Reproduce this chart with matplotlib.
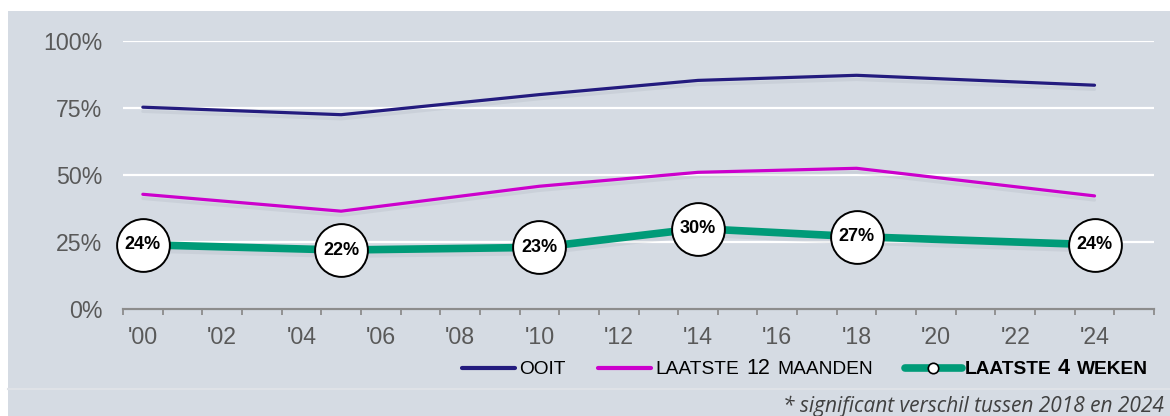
import numpy as np
import matplotlib
matplotlib.use("Agg")
import matplotlib.pyplot as plt
import matplotlib.patheffects as pe
from matplotlib.lines import Line2D
from matplotlib.patches import Rectangle
from matplotlib.offsetbox import (AnchoredOffsetbox, DrawingArea, HPacker,
                                  TextArea)

plt.rcParams['font.family'] = ['Liberation Sans', 'DejaVu Sans']

# --- data -------------------------------------------------------------
years = [2000, 2005, 2010, 2014, 2018, 2024]
ooit = [75.3, 72.5, 80.0, 85.3, 87.2, 83.5]
maanden12 = [42.8, 36.5, 45.8, 51.0, 52.5, 42.2]
weken4 = [24, 22, 23, 30, 27, 24]
weken4_labels = ['24%', '22%', '23%', '30%', '27%', '24%']

first_year, last_year = 2000, 2025
tick_labels = ["'00", "'02", "'04", "'06", "'08", "'10", "'12",
               "'14", "'16", "'18", "'20", "'22", "'24"]
y_ticks = [0, 25, 50, 75, 100]
y_labels = ['0%', '25%', '50%', '75%', '100%']

footnote = '* significant verschil tussen 2018 en 2024'

# --- colours ----------------------------------------------------------
bg = '#d5dbe3'
navy = '#231b7e'
magenta = '#cc00cc'
green = '#009b78'
txt_gray = '#595959'

W, H = 1170, 416
fig = plt.figure(figsize=(W / 100, H / 100), dpi=100)
fig.patch.set_facecolor('white')

# panel background
fig.add_artist(Rectangle((8 / W, 0), 1 - 8 / W, 1 - 11 / H,
                         transform=fig.transFigure, facecolor=bg,
                         edgecolor='none', zorder=-10))
fig.add_artist(Line2D([8 / W, 1], [1 - 389 / H] * 2, transform=fig.transFigure,
                      color='#dfe2e7', lw=1.5, zorder=-9))

ax = fig.add_axes([123 / W, 1 - 309 / H, (1154 - 123) / W, (309 - 41) / H])
ax.set_facecolor('none')

x = [y - first_year for y in years]
shadow = [pe.SimpleLineShadow(offset=(0, -3), shadow_color='#7d8794', alpha=0.12),
          pe.Normal()]

ax.plot(x, ooit, color=navy, lw=2.3, solid_capstyle='round', zorder=3,
        path_effects=shadow)
ax.plot(x, maanden12, color=magenta, lw=2.3, solid_capstyle='round', zorder=3,
        path_effects=shadow)
ax.plot(x, weken4, color=green, lw=5.5, solid_capstyle='butt', zorder=4,
        path_effects=shadow)
ax.plot(x, weken4, ls='none', marker='o', ms=38, mfc='white', mec='black',
        mew=1.4, zorder=5, clip_on=False)
for xi, yi, lab in zip(x, weken4, weken4_labels):
    ax.text(xi, yi, lab, ha='center', va='center', fontsize=13,
            fontweight='bold', color='black', zorder=6)

n_cat = last_year - first_year + 1
ax.set_xlim(-0.5, n_cat - 0.5)
ax.set_ylim(0, 100)

# category boundary ticks (major) and labels (minor)
ax.set_xticks(np.arange(-0.5, n_cat, 1.0))
ax.set_xticklabels([])
ax.set_xticks(np.arange(0, 2 * len(tick_labels), 2), minor=True)
ax.set_xticklabels(tick_labels, minor=True)
ax.tick_params(axis='x', which='major', length=4, width=1.3, color='#8c8c8c',
               direction='out')
ax.tick_params(axis='x', which='minor', length=0, pad=12, labelsize=16.7,
               labelcolor=txt_gray)

ax.set_yticks(y_ticks)
ax.set_yticklabels(y_labels)
ax.tick_params(axis='y', length=0, pad=15, labelsize=16.7, labelcolor=txt_gray)

ax.grid(axis='y', color='white', lw=1.6, zorder=1)
ax.set_axisbelow(True)
for s in ['top', 'right', 'left']:
    ax.spines[s].set_visible(False)
ax.spines['bottom'].set_color('#8c8c8c')
ax.spines['bottom'].set_linewidth(1.6)
ax.spines['bottom'].set_zorder(2)

# --- legend with small-caps style labels ------------------------------
def handle(color, lw, length, marker=False):
    da = DrawingArea(length, 10, 0, 0)
    da.add_artist(Line2D([0, length], [4.8, 4.8], color=color, lw=lw,
                         solid_capstyle='round'))
    if marker:
        da.add_artist(Line2D([length / 2], [4.8], marker='o', ms=7.5,
                             mfc='white', mec='black', mew=1.2))
    return da


def label(parts, bold=False):
    boxes = []
    for text, big in parts:
        boxes.append(TextArea(text, textprops=dict(
            size=15.5 if big else 13.8, color='black',
            fontweight='bold' if bold else 'normal')))
    return HPacker(children=boxes, align='baseline', pad=0, sep=5)


items = [
    HPacker(children=[handle(navy, 3, 38), label([('OOIT', False)])],
            align='baseline', pad=0, sep=3.5),
    HPacker(children=[handle(magenta, 3, 38),
                      label([('LAATSTE', False), ('12', True), ('MAANDEN', False)])],
            align='baseline', pad=0, sep=3.5),
    HPacker(children=[handle(green, 5.5, 41, marker=True),
                      label([('LAATSTE', False), ('4', True), ('WEKEN', False)],
                            bold=True)],
            align='baseline', pad=0, sep=2),
]
leg = HPacker(children=items, align='baseline', pad=0, sep=23)
anchored = AnchoredOffsetbox(loc='center right', child=leg, pad=0, borderpad=0,
                             frameon=False,
                             bbox_to_anchor=(1148 / W, 1 - 369 / H),
                             bbox_transform=fig.transFigure)
ax.add_artist(anchored)

fig.text(1164 / W, 1 - 406 / H, footnote, ha='right', va='center',
         family=['Open Sans', 'DejaVu Sans'], style='italic', fontsize=15,
         color='#404040')

fig.savefig('out.png', dpi=100, facecolor=fig.get_facecolor())
